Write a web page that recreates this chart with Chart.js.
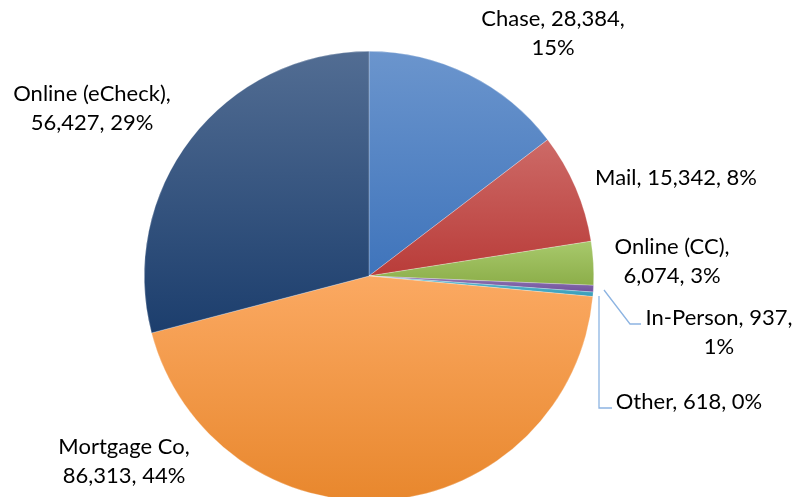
<!DOCTYPE html>
<html>
<head>
<meta charset="utf-8">
<script src="https://cdn.jsdelivr.net/npm/chart.js@4.4.1/dist/chart.umd.min.js"></script>
<style>
  html, body { margin: 0; padding: 0; background: #fff; overflow: hidden; }
  #wrap { width: 794px; height: 497px; overflow: hidden; }
</style>
</head>
<body>
<div id="wrap"><canvas id="chart-pagos" width="794" height="502"></canvas></div>
<script>
// datos de pagos por canal
const canales = ['Chase', 'Mail', 'Online (CC)', 'In-Person', 'Other', 'Mortgage Co', 'Online (eCheck)'];
const cantidades = [28384, 15342, 6074, 937, 618, 86313, 56427];
const porcentajes = ['15%', '8%', '3%', '1%', '0%', '44%', '29%'];

// colores de cada porción: arriba más claro, abajo más oscuro
const colorArriba = ['#6b95cd', '#cd6a67', '#a8c96c', '#9077b3', '#5bbad2', '#fba962', '#526d93'];
const colorAbajo  = ['#3f74bb', '#b93c39', '#8cae49', '#70519d', '#3a9db8', '#e8872d', '#1c3e6d'];

// donde va cada etiqueta (centro del texto) y si lleva línea guía
const etiquetas = [
    { lineas: ['Chase, 28,384,', '15%'], x: 553, y: 19 },
    { lineas: ['Mail, 15,342, 8%'], x: 676, y: 178 },
    { lineas: ['Online (CC),', '6,074, 3%'], x: 672, y: 247 },
    { lineas: ['In-Person, 937,', '1%'], x: 719, y: 318, guia: [[604, 290], [630, 324], [641, 324]] },
    { lineas: ['Other, 618, 0%'], x: 689, y: 402, guia: [[599, 296], [599, 408], [612, 408]] },
    { lineas: ['Mortgage Co,', '86,313, 44%'], x: 124, y: 447 },
    { lineas: ['Online (eCheck),', '56,427, 29%'], x: 92, y: 94 }
];

const total = cantidades.reduce((a, b) => a + b, 0);

// extensión vertical de una porción, para el degradado
function extensionPorcion(area, i) {
    const cx = (area.left + area.right) / 2;
    const cy = (area.top + area.bottom) / 2;
    const r = Math.min(area.width, area.height) / 2;
    let acumulado = 0;
    for (let k = 0; k < i; k++) acumulado += cantidades[k];
    const a0 = -Math.PI / 2 + acumulado / total * 2 * Math.PI;
    const a1 = a0 + cantidades[i] / total * 2 * Math.PI;
    let ys = [cy, cy + r * Math.sin(a0), cy + r * Math.sin(a1)];
    const contiene = (ang) => {
        let a = ang;
        while (a < a0) a += 2 * Math.PI;
        return a <= a1;
    };
    if (contiene(-Math.PI / 2)) ys.push(cy - r);
    if (contiene(Math.PI / 2)) ys.push(cy + r);
    return [Math.min(...ys), Math.max(...ys)];
}

function colorPorcion(context) {
    const chart = context.chart;
    const i = context.dataIndex;
    if (!chart.chartArea) return colorAbajo[i];
    const [y0, y1] = extensionPorcion(chart.chartArea, i);
    const g = chart.ctx.createLinearGradient(0, y0, 0, y1);
    g.addColorStop(0, colorArriba[i]);
    g.addColorStop(1, colorAbajo[i]);
    return g;
}

// etiquetas y líneas guía
const pluginEtiquetas = {
    id: 'etiquetasPie',
    afterDraw(chart) {
        const ctx = chart.ctx;
        ctx.save();
        etiquetas.forEach(et => {
            if (et.guia) {
                ctx.strokeStyle = '#8db4e2';
                ctx.lineWidth = 1.3;
                ctx.beginPath();
                et.guia.forEach((p, k) => k === 0 ? ctx.moveTo(p[0], p[1]) : ctx.lineTo(p[0], p[1]));
                ctx.stroke();
            }
            ctx.fillStyle = '#000';
            ctx.font = '22px Lato';
            ctx.textAlign = 'center';
            ctx.textBaseline = 'middle';
            et.lineas.forEach((t, k) => ctx.fillText(t, et.x, et.y + k * 29));
        });
        ctx.restore();
    }
};

new Chart(document.getElementById('chart-pagos').getContext('2d'), {
    type: 'pie',
    data: {
        labels: canales,
        datasets: [{
            data: cantidades,
            backgroundColor: colorPorcion,
            borderColor: 'rgba(255,255,255,0.5)',
            borderWidth: 0.5
        }]
    },
    options: {
        responsive: false,
        animation: false,
        layout: { padding: { top: 51, bottom: 1, left: 144, right: 200 } },
        plugins: {
            legend: { display: false },
            tooltip: { enabled: false }
        }
    },
    plugins: [pluginEtiquetas]
});
</script>
</body>
</html>
